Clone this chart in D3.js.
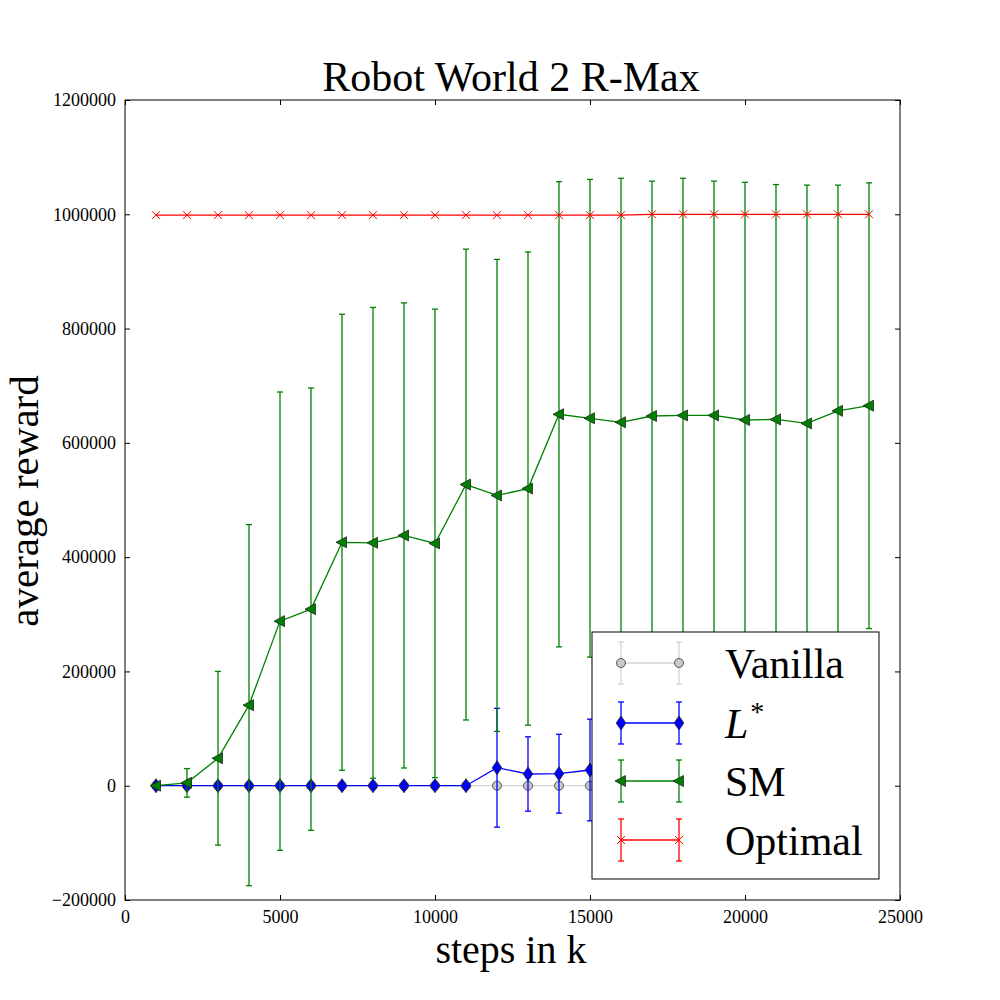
<!DOCTYPE html>
<html>
<head>
<meta charset="utf-8">
<script src="https://d3js.org/d3.v7.min.js"></script>
<style>
  body { margin: 0; background: #fff; }
  text { font-family: "Liberation Serif", "DejaVu Serif", serif; }
</style>
</head>
<body>
<div id="chart"></div>
<script>
// values
var steps = [1000, 2000, 3000, 4000, 5000, 6000, 7000, 8000, 9000, 10000, 11000, 12000,
             13000, 14000, 15000, 16000, 17000, 18000, 19000, 20000, 21000, 22000, 23000, 24000];

var vanillaMean = [0, 0, 0, 0, 0, 0, 0, 0, 0, 0, 0, 0, 0, 0, 0, 0, 0, 0, 0, 0, 0, 0, 0, 0];
var vanillaErr  = [0, 0, 0, 0, 0, 0, 0, 0, 0, 0, 0, 0, 0, 0, 0, 0, 0, 0, 0, 0, 0, 0, 0, 0];

// the last points sit behind the legend, estimated
var lstarMean = [0, 0, 0, 0, 0, 0, 0, 0, 0, 0, 0, 31500, 20500, 21000, 27500,
                 25000, 24000, 26000, 25000, 27000, 26000, 25000, 27000, 28000];
var lstarErr  = [0, 0, 0, 0, 0, 0, 0, 0, 0, 0, 0, 104000, 65000, 69000, 89000,
                 85000, 84000, 86000, 85000, 86000, 85000, 84000, 86000, 87000];

var smMean = [0, 5000, 48000, 141000, 288000, 309000, 426000, 425000, 438000, 424000, 527000, 508000,
              520000, 650000, 643000, 636000, 647000, 648000, 648000, 640000, 641000, 634000, 656000, 665000];
var smErr  = [0, 25000, 152000, 316000, 401000, 387000, 399000, 412000, 407000, 410000, 412000, 413000,
              414000, 407000, 418000, 427000, 411000, 415000, 410000, 416000, 411000, 417000, 395000, 390000];

var optMean = [998500, 998500, 998500, 998500, 998500, 998500, 998500, 998500, 998500, 998500, 998500, 998500,
               998500, 998500, 998500, 998500, 1000000, 1000000, 1000000, 1000000, 1000000, 1000000, 1000000, 1000000];
var optErr  = [0, 0, 0, 0, 0, 0, 0, 0, 0, 0, 0, 0, 0, 0, 0, 0, 0, 0, 0, 0, 0, 0, 0, 0];

var xTicks = [0, 5000, 10000, 15000, 20000, 25000];
var yTicks = [-200000, 0, 200000, 400000, 600000, 800000, 1000000, 1200000];

var seriesNames = ["Vanilla", "L*", "SM", "Optimal"];

var width = 1000, height = 1000;
var margin = {left: 125, right: 100, top: 100, bottom: 100};

var svg = d3.select('#chart')
  .append('svg')
    .attr('width', width)
    .attr('height', height);

var x = d3.scaleLinear().domain([0, 25000]).range([margin.left, width - margin.right]);
var y = d3.scaleLinear().domain([-200000, 1200000]).range([height - margin.bottom, margin.top]);

function zip(mean, err) {
  return steps.map(function (s, i) {
    return {x: s, y: mean[i], e: err[i]};
  });
}

var series = [
  {name: seriesNames[0], pts: zip(vanillaMean, vanillaErr), line: "#d3d3d3", bar: "#d3d3d3",
   fill: "#c8c8c8", marker: "circle"},
  {name: seriesNames[1], pts: zip(lstarMean, lstarErr), line: "#0000ff", bar: "#0000ff",
   fill: "#0000ff", marker: "thin_diamond"},
  {name: seriesNames[2], pts: zip(smMean, smErr), line: "#008000", bar: "#008000",
   fill: "#008000", marker: "tri_left"},
  {name: seriesNames[3], pts: zip(optMean, optErr), line: "#ff0000", bar: "#ff0000",
   fill: "#ff0000", marker: "x"}
];

// marker drawing, centred on 0,0
function drawMarker(g, s) {
  if (s.marker == "circle") {
    g.append('circle').attr('r', 4.5)
      .attr('fill', s.fill).attr('stroke', '#333').attr('stroke-width', 0.8);
  } else if (s.marker == "thin_diamond") {
    g.append('path').attr('d', 'M0,-7L4.8,0L0,7L-4.8,0Z')
      .attr('fill', s.fill).attr('stroke', '#222').attr('stroke-width', 0.8);
  } else if (s.marker == "tri_left") {
    g.append('path').attr('d', 'M-6,0L4.5,-5.5L4.5,5.5Z')
      .attr('fill', s.fill).attr('stroke', '#222').attr('stroke-width', 0.8);
  } else {
    g.append('path').attr('d', 'M-4,-4L4,4M-4,4L4,-4')
      .attr('fill', 'none').attr('stroke', s.fill).attr('stroke-width', 1);
  }
}

var plot = svg.append('g');

series.forEach(function (s) {
  var g = plot.append('g').classed('series', true);

  var bars = g.selectAll('g.bar')
    .data(s.pts.filter(function (p) { return p.e > 0; }))
    .enter()
      .append('g')
        .classed('bar', true)
        .attr('stroke', s.bar)
        .attr('stroke-width', 1.3);
  bars.append('line')
    .attr('x1', function (p) { return x(p.x); })
    .attr('x2', function (p) { return x(p.x); })
    .attr('y1', function (p) { return y(p.y - p.e); })
    .attr('y2', function (p) { return y(p.y + p.e); });
  bars.append('line')
    .attr('x1', function (p) { return x(p.x) - 3; })
    .attr('x2', function (p) { return x(p.x) + 3; })
    .attr('y1', function (p) { return y(p.y + p.e); })
    .attr('y2', function (p) { return y(p.y + p.e); });
  bars.append('line')
    .attr('x1', function (p) { return x(p.x) - 3; })
    .attr('x2', function (p) { return x(p.x) + 3; })
    .attr('y1', function (p) { return y(p.y - p.e); })
    .attr('y2', function (p) { return y(p.y - p.e); });

  g.append('path')
    .datum(s.pts)
    .attr('fill', 'none')
    .attr('stroke', s.line)
    .attr('stroke-width', 1.3)
    .attr('d', d3.line().x(function (p) { return x(p.x); }).y(function (p) { return y(p.y); }));

  g.selectAll('g.mark')
    .data(s.pts)
    .enter()
      .append('g')
        .classed('mark', true)
        .attr('transform', function (p) { return 'translate(' + x(p.x) + ',' + y(p.y) + ')'; })
        .each(function () { drawMarker(d3.select(this), s); });
});

// frame and inward ticks on all four sides
var fmt = function (d) { return d < 0 ? "\u2212" + Math.abs(d) : String(d); };

var axB = svg.append('g').attr('transform', 'translate(0,' + (height - margin.bottom) + ')')
  .call(d3.axisBottom(x).tickValues(xTicks).tickSizeInner(-5).tickSizeOuter(0).tickPadding(9).tickFormat(fmt));
var axT = svg.append('g').attr('transform', 'translate(0,' + margin.top + ')')
  .call(d3.axisTop(x).tickValues(xTicks).tickSizeInner(-5).tickSizeOuter(0).tickFormat(''));
var axL = svg.append('g').attr('transform', 'translate(' + margin.left + ',0)')
  .call(d3.axisLeft(y).tickValues(yTicks).tickSizeInner(-5).tickSizeOuter(0).tickPadding(9).tickFormat(fmt));
var axR = svg.append('g').attr('transform', 'translate(' + (width - margin.right) + ',0)')
  .call(d3.axisRight(y).tickValues(yTicks).tickSizeInner(-5).tickSizeOuter(0).tickFormat(''));

[axB, axT, axL, axR].forEach(function (a) {
  a.select('.domain').remove();
  a.selectAll('.tick line').attr('stroke', '#000');
  a.selectAll('text').attr('font-family', '"Liberation Serif", serif').attr('font-size', 18).attr('fill', '#000');
});
axB.selectAll('text').attr('dy', '0.8em');

svg.append('rect')
  .attr('x', margin.left).attr('y', margin.top)
  .attr('width', width - margin.left - margin.right)
  .attr('height', height - margin.top - margin.bottom)
  .attr('fill', 'none').attr('stroke', '#000').attr('stroke-width', 1);

// titles
svg.append('text').attr('x', 511).attr('y', 91).attr('text-anchor', 'middle')
  .attr('font-size', 42).text('Robot World 2 R-Max');
svg.append('text').attr('x', 511).attr('y', 963).attr('text-anchor', 'middle')
  .attr('font-size', 40).text('steps in k');
svg.append('text').attr('transform', 'translate(38,501) rotate(-90)').attr('text-anchor', 'middle')
  .attr('font-size', 41).text('average reward');

// legend
var legend = svg.append('g').attr('transform', 'translate(592,632)');
legend.append('rect').attr('width', 287).attr('height', 247)
  .attr('fill', '#fff').attr('stroke', '#000').attr('stroke-width', 1);

var rowY = [31, 91, 149, 208];
series.forEach(function (s, i) {
  var r = legend.append('g').attr('transform', 'translate(0,' + rowY[i] + ')');
  [29, 87].forEach(function (hx) {
    r.append('line').attr('x1', hx).attr('x2', hx).attr('y1', -21).attr('y2', 21)
      .attr('stroke', s.bar).attr('stroke-width', 1.3);
    r.append('line').attr('x1', hx - 3).attr('x2', hx + 3).attr('y1', -21).attr('y2', -21)
      .attr('stroke', s.bar).attr('stroke-width', 1.3);
    r.append('line').attr('x1', hx - 3).attr('x2', hx + 3).attr('y1', 21).attr('y2', 21)
      .attr('stroke', s.bar).attr('stroke-width', 1.3);
  });
  r.append('line').attr('x1', 29).attr('x2', 87).attr('y1', 0).attr('y2', 0)
    .attr('stroke', s.line).attr('stroke-width', 1.3);
  [29, 87].forEach(function (hx) {
    drawMarker(r.append('g').attr('transform', 'translate(' + hx + ',0)'), s);
  });
  var t = r.append('text').attr('x', 133).attr('y', 15).attr('font-size', 42);
  if (s.name == "L*") {
    t.append('tspan').attr('font-style', 'italic').text('L');
    t.append('tspan').attr('font-size', 28).attr('dx', 2).attr('dy', -17).text('*');
  } else {
    t.text(s.name);
  }
});
</script>
</body>
</html>
